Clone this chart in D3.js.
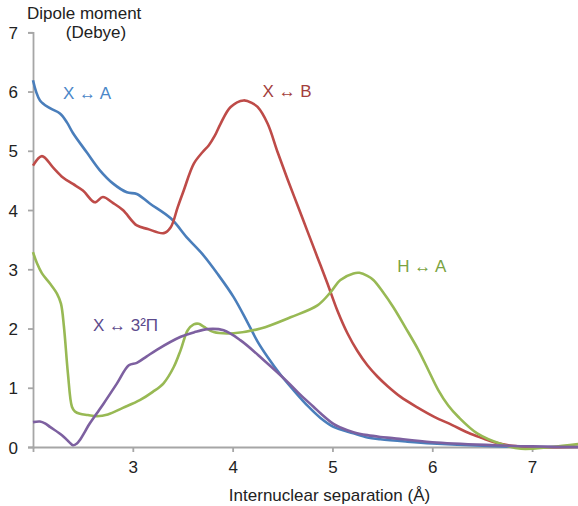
<!DOCTYPE html>
<html><head><meta charset="utf-8">
<script src="https://cdn.jsdelivr.net/npm/d3@7"></script>
<style>body{margin:0;background:#fff}svg{display:block;font-family:"Liberation Sans",Arial,sans-serif}</style>
</head><body><svg id="c" width="578" height="506"></svg>
<script>
const xTicks = [3, 4, 5, 6, 7];
const yTicks = [0, 1, 2, 3, 4, 5, 6, 7];

const xaX = [2.0,2.07,2.17,2.27,2.34,2.40,2.54,2.67,2.80,2.94,3.04,3.17,3.38,3.55,3.70,3.85,4.01,4.15,4.25,4.35,4.48,4.61,4.76,4.88,5.01,5.21,5.35,5.48,5.75,6.0,6.5,7.0,7.5];
const xaY = [6.19,5.85,5.72,5.63,5.48,5.30,4.97,4.67,4.45,4.30,4.27,4.11,3.86,3.52,3.25,2.92,2.53,2.10,1.78,1.52,1.22,0.96,0.68,0.49,0.34,0.23,0.16,0.13,0.09,0.06,0.02,0.0,0.0];

const xbX = [2.0,2.09,2.20,2.30,2.40,2.50,2.62,2.70,2.80,2.90,3.04,3.15,3.31,3.38,3.45,3.51,3.61,3.70,3.76,3.82,3.88,3.98,4.11,4.20,4.25,4.35,4.45,4.55,4.65,4.75,4.85,4.95,5.05,5.15,5.25,5.35,5.45,5.55,5.68,5.85,6.02,6.2,6.36,6.5,6.62,6.8,7.0,7.5];
const xbY = [4.75,4.91,4.72,4.55,4.44,4.33,4.13,4.22,4.12,4.00,3.74,3.68,3.61,3.71,4.05,4.33,4.78,4.98,5.09,5.25,5.46,5.74,5.85,5.80,5.74,5.46,4.98,4.52,4.08,3.64,3.20,2.76,2.30,1.92,1.62,1.38,1.19,1.03,0.85,0.67,0.51,0.37,0.24,0.15,0.08,0.02,0.0,0.0];

const haX = [2.0,2.04,2.09,2.17,2.24,2.28,2.31,2.35,2.39,2.42,2.47,2.55,2.64,2.75,2.90,3.07,3.20,3.31,3.41,3.48,3.55,3.61,3.66,3.71,3.81,4.01,4.28,4.58,4.85,4.98,5.08,5.21,5.27,5.35,5.41,5.50,5.61,5.73,5.86,5.96,6.06,6.16,6.26,6.45,6.69,6.89,7.19,7.47];
const haY = [3.29,3.10,2.93,2.76,2.59,2.42,2.03,1.24,0.68,0.60,0.56,0.54,0.52,0.55,0.66,0.79,0.93,1.08,1.35,1.64,1.97,2.07,2.08,2.03,1.94,1.92,2.00,2.19,2.39,2.61,2.82,2.93,2.94,2.89,2.82,2.63,2.36,2.02,1.64,1.30,0.96,0.70,0.51,0.23,0.05,-0.03,0.0,0.05];

const xpX = [2.0,2.07,2.12,2.17,2.29,2.34,2.37,2.40,2.44,2.47,2.57,2.64,2.71,2.84,2.96,3.04,3.14,3.24,3.48,3.62,3.75,3.91,4.08,4.31,4.55,4.68,4.81,4.88,5.01,5.08,5.21,5.35,5.48,5.6,6.0,6.62,7.0,7.5];
const xpY = [0.42,0.43,0.40,0.34,0.20,0.12,0.07,0.03,0.06,0.12,0.40,0.57,0.74,1.07,1.38,1.42,1.53,1.64,1.86,1.94,1.99,1.97,1.80,1.47,1.10,0.88,0.68,0.57,0.39,0.33,0.25,0.20,0.17,0.15,0.08,0.03,0.01,0.0];

const seriesNames = ["X ↔ A", "X ↔ B", "H ↔ A", "X ↔ 3²Π"];

const svg = d3.select("#c");
const x = d3.scaleLinear().domain([2, 7.5]).range([33, 582]);
const y = d3.scaleLinear().domain([0, 7]).range([447, 32.3]);

// axes
const gx = svg.append("g").attr("transform", "translate(0,447)")
  .call(d3.axisBottom(x).tickValues(xTicks).tickSizeOuter(0).tickSize(5).tickPadding(9).tickFormat(d3.format("d")));
const gy = svg.append("g").attr("transform", "translate(33,0)")
  .call(d3.axisLeft(y).tickValues(yTicks).tickSizeOuter(0).tickSize(5).tickPadding(10).tickFormat(d3.format("d")));
[gx, gy].forEach(g => {
  g.select(".domain").attr("stroke", "#a6a6a6").attr("stroke-width", 1.8);
  g.selectAll(".tick line").attr("stroke", "#a6a6a6").attr("stroke-width", 1.8);
  g.selectAll(".tick text").attr("font-size", 17).attr("fill", "#222").attr("font-family", "Liberation Sans, Arial, sans-serif");
});
gy.selectAll(".tick text").attr("dy", "0.36em");

const line = d3.line().x(d => x(d[0])).y(d => y(d[1])).curve(d3.curveCatmullRom.alpha(0.5));
const series = [
  {xs: xaX, ys: xaY, color: "#4a7ebb"},
  {xs: xbX, ys: xbY, color: "#be4b48"},
  {xs: haX, ys: haY, color: "#98b954"},
  {xs: xpX, ys: xpY, color: "#7d60a0"}
];
series.forEach(s => {
  svg.append("path").datum(d3.zip(s.xs, s.ys)).attr("d", line)
    .attr("fill", "none").attr("stroke", s.color).attr("stroke-width", 2.6).attr("stroke-linejoin", "round");
});

// series labels
const labels = [
  {t: seriesNames[0], vx: 2.3, vy: 5.87, c: "#4a86c8"},
  {t: seriesNames[1], vx: 4.3, vy: 5.91, c: "#a33e3c"},
  {t: seriesNames[2], vx: 5.65, vy: 2.95, c: "#7aa33f"},
  {t: seriesNames[3], vx: 2.6, vy: 1.95, c: "#5c4a8c"}
];
labels.forEach(l => {
  svg.append("text").attr("x", x(l.vx)).attr("y", y(l.vy)).attr("fill", l.c)
    .attr("font-size", 17).text(l.t);
});

// titles
svg.append("text").attr("x", 27).attr("y", 18.5).attr("font-size", 17).attr("fill", "#222").text("Dipole moment");
svg.append("text").attr("x", 96).attr("y", 37.5).attr("text-anchor", "middle").attr("font-size", 17).attr("fill", "#222").text("(Debye)");
svg.append("text").attr("x", 329.5).attr("y", 500.5).attr("text-anchor", "middle").attr("font-size", 17).attr("fill", "#222").text("Internuclear separation (Å)");
</script></body></html>
